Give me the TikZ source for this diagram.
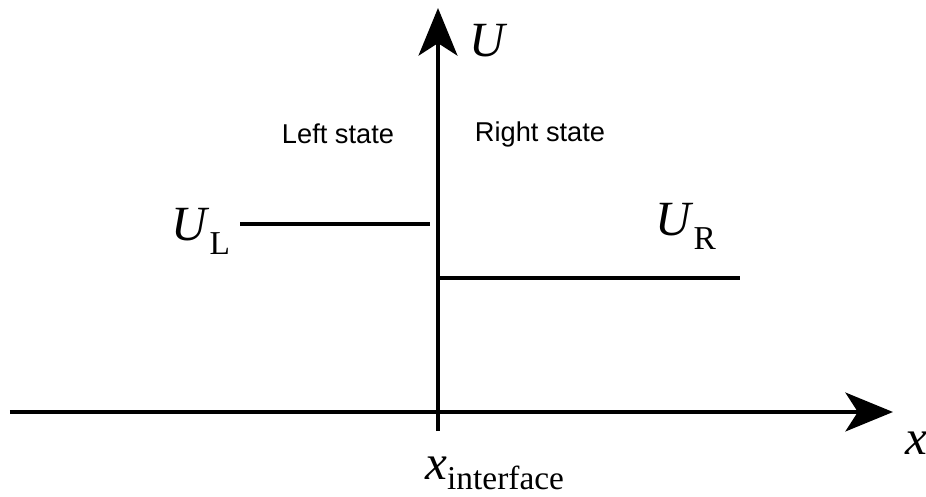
\documentclass[tikz,border=0pt]{standalone}
\usepackage{fontspec}
\setmainfont{Liberation Serif}
\newfontfamily\arialf{Liberation Sans}
\usepackage{tikz}
\usetikzlibrary{arrows.meta,positioning}
\newcommand{\symlbl}[3][8pt]{\textit{#2}\raisebox{-#1}{\fontsize{19}{19}\selectfont #3}}

\begin{document}
\begin{tikzpicture}[
  axis/.style={line width=2.8pt, -{Stealth[length=27pt,width=22pt,inset=7pt]}},
  level/.style={line width=2.2pt},
  biglbl/.style={font=\fontsize{28}{28}\selectfont, inner sep=0pt},
  statelbl/.style={font=\arialf\fontsize{15.5}{16}\selectfont, inner sep=0pt}]
\useasboundingbox (0,0) rectangle (18.52,9.92);
% axes
\coordinate (xstart) at (0.2,1.68);
\coordinate (xend) at (17.86,1.68);
\coordinate (ystart) at (8.76,1.30);
\coordinate (yend) at (8.76,9.76);
\draw[axis] (xstart) -- (xend);
\draw[axis] (ystart) -- (yend);
% left and right states
\coordinate (lA) at (4.8,5.44);
\coordinate (lB) at (8.6,5.44);
\coordinate (rA) at (8.8,4.36);
\coordinate (rB) at (14.8,4.36);
\draw[level] (lA) -- (lB);
\draw[level] (rA) -- (rB);
% labels
\node[biglbl, anchor=base west] (ulab) at (9.38,8.78) {\textit{U}};
\node[biglbl, anchor=base west] (xlab) at (18.1,0.84) {\textit{x}};
\node[biglbl, anchor=base west] (xint) at (8.5,0.34) {\symlbl[6pt]{x}{interface}};
\node[biglbl, anchor=base west] (uleft) at (3.42,5.12) {\symlbl{U}{L}};
\node[biglbl, anchor=base west] (uright) at (13.1,5.22) {\symlbl{U}{R}};
\node[statelbl] (lstate) at (6.76,7.24) {Left state};
\node[statelbl] (rstate) at (10.8,7.24) {Right state};
\end{tikzpicture}
\end{document}
